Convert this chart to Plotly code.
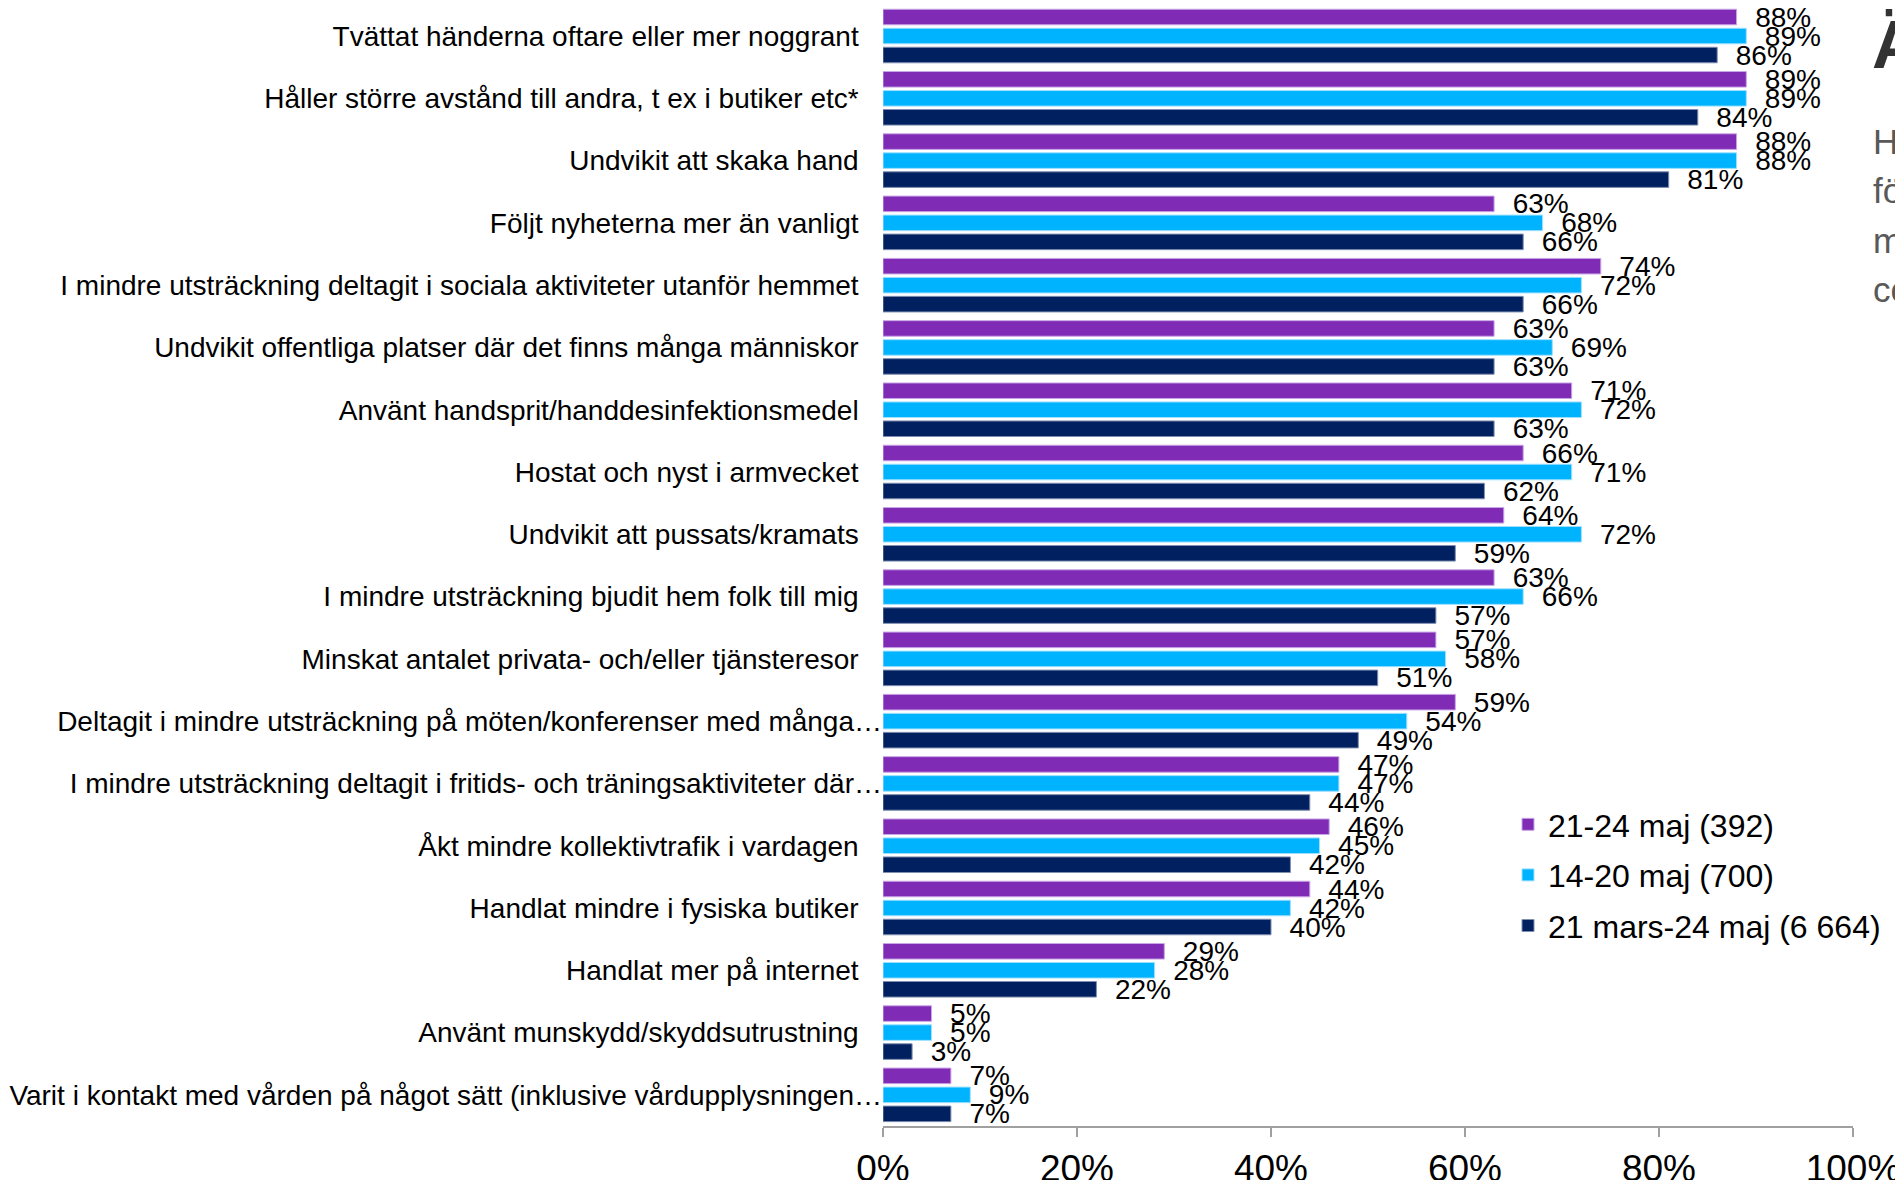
import plotly.graph_objects as go

categories = [
    "Tvättat händerna oftare eller mer noggrant",
    "Håller större avstånd till andra, t ex i butiker etc*",
    "Undvikit att skaka hand",
    "Följt nyheterna mer än vanligt",
    "I mindre utsträckning deltagit i sociala aktiviteter utanför hemmet",
    "Undvikit offentliga platser där det finns många människor",
    "Använt handsprit/handdesinfektionsmedel",
    "Hostat och nyst i armvecket",
    "Undvikit att pussats/kramats",
    "I mindre utsträckning bjudit hem folk till mig",
    "Minskat antalet privata- och/eller tjänsteresor",
    "Deltagit i mindre utsträckning på möten/konferenser med många…",
    "I mindre utsträckning deltagit i fritids- och träningsaktiviteter där…",
    "Åkt mindre kollektivtrafik i vardagen",
    "Handlat mindre i fysiska butiker",
    "Handlat mer på internet",
    "Använt munskydd/skyddsutrustning",
    "Varit i kontakt med vården på något sätt (inklusive vårdupplysningen…",
]

series_names = ["21-24 maj (392)", "14-20 maj (700)", "21 mars-24 maj (6 664)"]

v_21_24_maj = [88, 89, 88, 63, 74, 63, 71, 66, 64, 63, 57, 59, 47, 46, 44, 29, 5, 7]
v_14_20_maj = [89, 89, 88, 68, 72, 69, 72, 71, 72, 66, 58, 54, 47, 45, 42, 28, 5, 9]
v_21mars_24maj = [86, 84, 81, 66, 66, 63, 63, 62, 59, 57, 51, 49, 44, 42, 40, 22, 3, 7]

x_ticks = [0, 20, 40, 60, 80, 100]
x_tick_labels = ["0%", "20%", "40%", "60%", "80%", "100%"]

colors = ["#7F2BB5", "#00B3FF", "#00205F"]
edge_colors = ["#C9A6E6", "#9FE0FF", "#7F8FB0"]

# tick labels: the ones not truncated get a little trailing space
ticktext = [c if c.endswith("…") else c + "\u00a0\u00a0\u00a0" for c in categories]

FONT = "Liberation Sans, Arial, sans-serif"

fig = go.Figure()
for name, vals, col, ecol, grp in zip(series_names,
                                     [v_21_24_maj, v_14_20_maj, v_21mars_24maj],
                                     colors, edge_colors, ["a", "b", "c"]):
    fig.add_trace(go.Bar(
        name=name,
        y=categories,
        x=vals,
        orientation="h",
        marker=dict(color=col, line=dict(color=ecol, width=1)),
        text=["\u00a0\u00a0" + str(v) + "%" for v in vals],
        texttemplate="%{text}",
        textposition="outside",
        constraintext="none",
        cliponaxis=False,
        textfont=dict(family=FONT, size=28, color="#000000"),
        legendgroup=grp,
        hoverinfo="skip",
    ))

# page body has an 8px default margin: work in page pixels and subtract it
OFF = 8
W, H = 1903 - OFF, 1188 - 2 * OFF
L = 883 - OFF
R = W - (1853 - OFF)
T = 0
B = H - (1126 - OFF)
pw = W - L - R
ph = H - T - B


def px_x(px):
    return (px - OFF - L) / pw


def px_y(py):
    return 1 - (py - OFF - T) / ph


annotations = [
    dict(text="<b>Ändrade beteenden</b>", x=px_x(1870), y=px_y(44), xref="paper", yref="paper",
         xanchor="left", yanchor="middle", showarrow=False,
         font=dict(family=FONT, size=68, color="#333333")),
]
body_lines = [
    "Har du gjort något av följande",
    "för att minska risken att smittas",
    "med eller sprida",
    "coronaviruset?",
]
body_y = [141, 190, 240, 289]
for line, yy in zip(body_lines, body_y):
    annotations.append(dict(text=line, x=px_x(1871), y=px_y(yy), xref="paper", yref="paper",
                            xanchor="left", yanchor="middle", showarrow=False,
                            font=dict(family=FONT, size=35, color="#595959")))

fig.update_layout(
    width=W, height=H,
    margin=dict(l=L, r=R, t=T, b=B, pad=0, autoexpand=False),
    paper_bgcolor="white", plot_bgcolor="white",
    barmode="group",
    bargap=0.085,
    bargroupgap=0.18,
    font=dict(family=FONT, color="#000000"),
    showlegend=True,
    legend=dict(
        xref="container", yref="container",
        x=(1508 - OFF) / W, y=1 - (797 - OFF) / H,
        xanchor="left", yanchor="top",
        font=dict(family=FONT, size=32, color="#000000"),
        tracegroupgap=6,
        bgcolor="rgba(0,0,0,0)",
    ),
    annotations=annotations,
    xaxis=dict(
        range=[0, 100],
        tickvals=x_ticks,
        ticktext=x_tick_labels,
        ticks="outside",
        ticklen=9,
        tickwidth=2,
        tickcolor="#A0A0A0",
        showline=True,
        linecolor="#A0A0A0",
        linewidth=2,
        showgrid=False,
        zeroline=False,
        tickfont=dict(family=FONT, size=37, color="#000000"),
        fixedrange=True,
    ),
    yaxis=dict(
        range=[17.5, -0.45],
        tickvals=categories,
        ticktext=ticktext,
        showline=False,
        showgrid=False,
        zeroline=False,
        ticks="",
        tickfont=dict(family=FONT, size=28, color="#000000"),
        automargin=False,
        fixedrange=True,
    ),
)

fig.write_html("out.html")
